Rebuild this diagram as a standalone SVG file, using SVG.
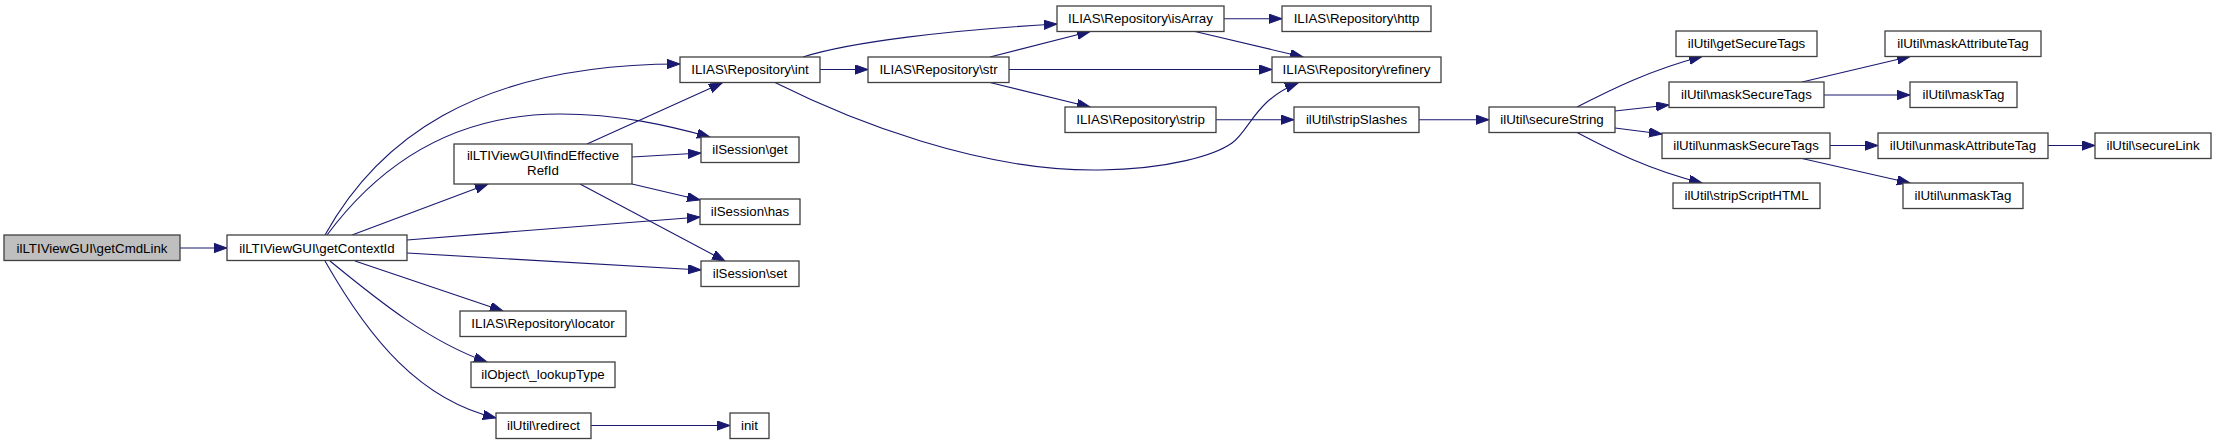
<svg xmlns="http://www.w3.org/2000/svg" width="2216" height="444" viewBox="0 0 2216 444">
<style>
.n rect{fill:#ffffff;stroke:#404040;stroke-width:1.3}
.n.root rect{fill:#bfbfbf}
.n text{font-family:"Liberation Sans",Arial,sans-serif;font-size:13.3px;fill:#000000;text-anchor:middle}
#edges path{fill:none;stroke:#191970;stroke-width:1.1;marker-end:url(#ah)}
</style>
<defs>
<marker id="ah" markerUnits="userSpaceOnUse" markerWidth="15" markerHeight="11" refX="13" refY="4.65" orient="auto">
<path d="M0,0 L13,4.65 L0,9.3 z" fill="#191970" stroke="#191970" stroke-width="1"/>
</marker>
</defs>
<rect width="2216" height="444" fill="#ffffff"/>
<g id="edges">
<path d="M180,248 L227,248"/>
<path d="M325,235 C375,145 470,64 680,64"/>
<path d="M327,235 C390,150 470,114 560,114 C620,114 670,126 710,137"/>
<path d="M352,235 L488,184"/>
<path d="M407,240 L700,217"/>
<path d="M407,253 L701,270"/>
<path d="M355,261 L503,311"/>
<path d="M330,261 C380,302 430,342 487,362"/>
<path d="M325,261 C370,340 420,400 496,418"/>
<path d="M591,425.5 L730,425.5"/>
<path d="M587,144 L722,83"/>
<path d="M632,157 L701,153"/>
<path d="M632,184 L700,200"/>
<path d="M580,184 L725,261"/>
<path d="M820,69.5 L868,69.5"/>
<path d="M803,57 C850,42 950,30 1057,24"/>
<path d="M775,82.5 C850,120 980,172 1100,170 C1170,169 1215,155 1232,143 C1250,130 1255,100 1298,83"/>
<path d="M990,57 L1090,31.5"/>
<path d="M1009,69.5 L1272,69.5"/>
<path d="M990,82.5 L1090,107"/>
<path d="M1224,18.7 L1282,18.7"/>
<path d="M1195,31.5 L1303,57"/>
<path d="M1216,119.7 L1294,119.7"/>
<path d="M1419,119.7 L1489,119.7"/>
<path d="M1577,107 C1610,90 1650,70 1702,56.5"/>
<path d="M1615,111 L1669,105"/>
<path d="M1615,128 L1662,134"/>
<path d="M1577,132.5 C1610,150 1650,170 1702,183"/>
<path d="M1802,82 L1910,56.5"/>
<path d="M1824,95 L1910,95"/>
<path d="M1830,145.5 L1878,145.5"/>
<path d="M1802,158.5 L1910,183"/>
<path d="M2048,145.5 L2095,145.5"/>
</g>
<g id="n0" class="n root"><rect x="4" y="235" width="176" height="25.5"/><text x="92" y="252.5">ilLTIViewGUI\getCmdLink</text></g>
<g id="n1" class="n"><rect x="227" y="235" width="180" height="25.5"/><text x="317" y="252.5">ilLTIViewGUI\getContextId</text></g>
<g id="n2" class="n"><rect x="454" y="144" width="178" height="40"/><text x="543" y="159.5">ilLTIViewGUI\findEffective</text><text x="543" y="174.5">RefId</text></g>
<g id="n3" class="n"><rect x="680" y="57" width="140" height="25.5"/><text x="750" y="74">ILIAS\Repository\int</text></g>
<g id="n4" class="n"><rect x="868" y="57" width="141" height="25.5"/><text x="938.5" y="74">ILIAS\Repository\str</text></g>
<g id="n5" class="n"><rect x="1057" y="6" width="167" height="25.5"/><text x="1140.5" y="23">ILIAS\Repository\isArray</text></g>
<g id="n6" class="n"><rect x="1282" y="6" width="149" height="25.5"/><text x="1356.5" y="23">ILIAS\Repository\http</text></g>
<g id="n7" class="n"><rect x="1272" y="57" width="169" height="25.5"/><text x="1356.5" y="74">ILIAS\Repository\refinery</text></g>
<g id="n8" class="n"><rect x="1065" y="107" width="151" height="25.5"/><text x="1140.5" y="124">ILIAS\Repository\strip</text></g>
<g id="n9" class="n"><rect x="1294" y="107" width="125" height="25.5"/><text x="1356.5" y="124">ilUtil\stripSlashes</text></g>
<g id="n10" class="n"><rect x="1489" y="107" width="126" height="25.5"/><text x="1552" y="124">ilUtil\secureString</text></g>
<g id="n11" class="n"><rect x="1676" y="31" width="141" height="25.5"/><text x="1746.5" y="48">ilUtil\getSecureTags</text></g>
<g id="n12" class="n"><rect x="1669" y="82" width="155" height="25.5"/><text x="1746.5" y="99">ilUtil\maskSecureTags</text></g>
<g id="n13" class="n"><rect x="1662" y="133" width="168" height="25.5"/><text x="1746" y="150">ilUtil\unmaskSecureTags</text></g>
<g id="n14" class="n"><rect x="1673" y="183" width="147" height="25.5"/><text x="1746.5" y="200">ilUtil\stripScriptHTML</text></g>
<g id="n15" class="n"><rect x="1885" y="31" width="156" height="25.5"/><text x="1963" y="48">ilUtil\maskAttributeTag</text></g>
<g id="n16" class="n"><rect x="1910" y="82" width="107" height="25.5"/><text x="1963.5" y="99">ilUtil\maskTag</text></g>
<g id="n17" class="n"><rect x="1878" y="133" width="170" height="25.5"/><text x="1963" y="150">ilUtil\unmaskAttributeTag</text></g>
<g id="n18" class="n"><rect x="2095" y="133" width="116" height="25.5"/><text x="2153" y="150">ilUtil\secureLink</text></g>
<g id="n19" class="n"><rect x="1903" y="183" width="120" height="25.5"/><text x="1963" y="200">ilUtil\unmaskTag</text></g>
<g id="n20" class="n"><rect x="701" y="137" width="98" height="25.5"/><text x="750" y="154">ilSession\get</text></g>
<g id="n21" class="n"><rect x="700" y="199" width="100" height="25.5"/><text x="750" y="216">ilSession\has</text></g>
<g id="n22" class="n"><rect x="701" y="261" width="98" height="25.5"/><text x="750" y="278">ilSession\set</text></g>
<g id="n23" class="n"><rect x="460" y="311" width="166" height="25.5"/><text x="543" y="328">ILIAS\Repository\locator</text></g>
<g id="n24" class="n"><rect x="471" y="362" width="144" height="25.5"/><text x="543" y="379">ilObject\_lookupType</text></g>
<g id="n25" class="n"><rect x="496" y="413" width="95" height="25.5"/><text x="543.5" y="430">ilUtil\redirect</text></g>
<g id="n26" class="n"><rect x="730" y="413" width="39" height="25.5"/><text x="749.5" y="430">init</text></g>
</svg>
